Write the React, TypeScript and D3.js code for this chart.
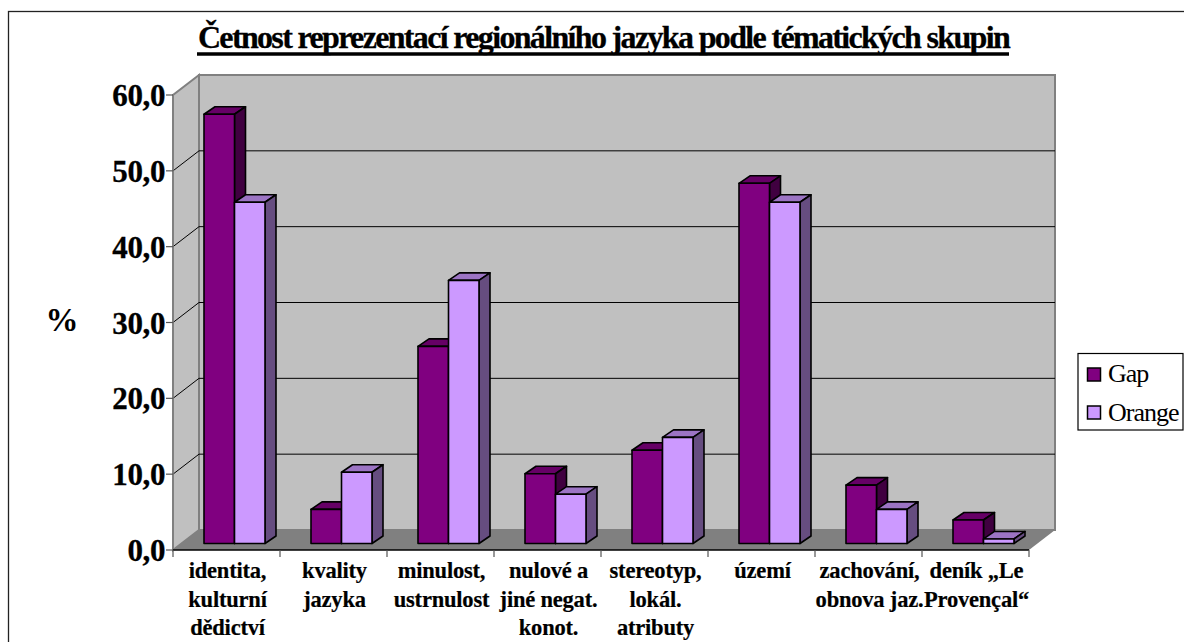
import React from "react";
import * as d3 from "d3";

const categories: string[][] = [
  ["identita,", "kulturní", "dědictví"],
  ["kvality", "jazyka"],
  ["minulost,", "ustrnulost"],
  ["nulové a", "jiné negat.", "konot."],
  ["stereotyp,", "lokál.", "atributy"],
  ["území"],
  ["zachování,", "obnova jaz."],
  ["deník „Le", "Provençal“"],
];
const gapValues = [56.6, 4.5, 26.0, 9.2, 12.3, 47.5, 7.7, 3.1];
const orangeValues = [45.0, 9.4, 34.7, 6.5, 14.0, 45.0, 4.5, 0.6];
const yTicks = [0, 10, 20, 30, 40, 50, 60];
const title = "Četnost reprezentací regionálního jazyka podle tématických skupin";

const W = 1184, H = 642;
const frontLeft = 173, frontRight = 1029, frontBase = 550, frontTop = 95;
const wallDx = 26, wallDy = -20;
const barDx = 11, barDy = -7.5, barShiftY = -6.5;
const font = "'Liberation Serif', 'Times New Roman', serif";

const y = d3.scaleLinear().domain([0, 60]).range([frontBase, frontTop]);
const x = d3.scaleBand<number>().domain(d3.range(categories.length)).range([frontLeft, frontRight]).paddingInner(0).paddingOuter(0);
const inner = d3.scaleBand<string>().domain(["Gap", "Orange"]).range([31, 92]);
const poly = (pts: number[][]) => d3.line()(pts as [number, number][]) + "Z";

function Bar({ x0, w, v, front, top, side }: { x0: number; w: number; v: number; front: string; top: string; side: string }) {
  const b = y(0) + barShiftY;
  const t = y(v) + barShiftY;
  const stroke = { stroke: "#000", strokeWidth: 1.6, strokeLinejoin: "round" as const };
  return (
    <g>
      <path d={poly([[x0, t], [x0 + barDx, t + barDy], [x0 + w + barDx, t + barDy], [x0 + w, t]])} fill={top} {...stroke} />
      <path d={poly([[x0 + w, t], [x0 + w + barDx, t + barDy], [x0 + w + barDx, b + barDy], [x0 + w, b]])} fill={side} {...stroke} />
      <rect x={x0} y={t} width={w} height={b - t} fill={front} {...stroke} />
    </g>
  );
}

export default function App() {
  const wallL = frontLeft + wallDx;
  const wallR = frontRight + wallDx;
  return (
    <svg width={W} height={H} style={{ position: "absolute", left: 0, top: 0, background: "#fff" }}>
      {/* chart frame runs off the right and bottom of the page */}
      <rect x={8.5} y={11.5} width={W + 10} height={H + 10} fill="#fff" stroke="#222" strokeWidth={1.3} />
      <text x={603.5} y={48} textAnchor="middle" fontFamily={font} fontWeight="bold" fontSize={32} letterSpacing={-1.66} fill="#000" stroke="#000" strokeWidth={0.3}>{title}</text>
      <line x1={197} x2={1009} y1={54} y2={54} stroke="#000" strokeWidth={3.6} />

      {/* walls and floor */}
      <rect x={wallL} y={y(60) + wallDy} width={wallR - wallL} height={y(0) - y(60)} fill="#C0C0C0" stroke="#808080" strokeWidth={2} />
      <path d={poly([[frontLeft, y(0)], [wallL, y(0) + wallDy], [wallL, y(60) + wallDy], [frontLeft, y(60)]])} fill="#C0C0C0" stroke="#808080" strokeWidth={2} />
      <path d={poly([[frontLeft, y(0)], [wallL, y(0) + wallDy], [wallR, y(0) + wallDy], [frontRight, y(0)]])} fill="#808080" />

      {/* gridlines run across the back wall and down the side wall */}
      {yTicks.slice(1, -1).map((t) => (
        <path key={t} d={`M${frontLeft},${y(t)}L${wallL},${y(t) + wallDy}L${wallR},${y(t) + wallDy}`} fill="none" stroke="#000" strokeWidth={1} />
      ))}

      {/* front axes */}
      <line x1={frontLeft} x2={frontLeft} y1={y(60)} y2={y(0)} stroke="#808080" strokeWidth={1.5} />
      <line x1={frontLeft} x2={frontRight} y1={y(0)} y2={y(0)} stroke="#000" strokeWidth={1.5} />
      {yTicks.map((t) => (
        <g key={t}>
          <line x1={frontLeft - 7} x2={frontLeft} y1={y(t)} y2={y(t)} stroke="#555" strokeWidth={1.2} />
          <text x={frontLeft - 8} y={y(t) + 11} textAnchor="end" fontFamily={font} fontWeight="bold" fontSize={31} letterSpacing={-0.4} fill="#000" stroke="#000" strokeWidth={0.3}>{t.toFixed(1).replace(".", ",")}</text>
        </g>
      ))}
      {d3.range(categories.length + 1).map((i) => {
        const px = frontLeft + i * x.step();
        return <line key={i} x1={px} x2={px} y1={y(0)} y2={y(0) + 7} stroke="#555" strokeWidth={1.2} />;
      })}

      {categories.map((_, i) => {
        const x0 = x(i)!;
        return (
          <g key={i}>
            <Bar x0={x0 + inner("Gap")!} w={inner.bandwidth()} v={gapValues[i]} front="#800080" top="#660066" side="#400040" />
            <Bar x0={x0 + inner("Orange")!} w={inner.bandwidth()} v={orangeValues[i]} front="#CC99FF" top="#9C74C4" side="#664D80" />
          </g>
        );
      })}

      {categories.map((lines, i) => (
        <text key={i} textAnchor="middle" fontFamily={font} fontWeight="bold" fontSize={22.5} letterSpacing={-0.2} fill="#000" stroke="#000" strokeWidth={0.2}>
          {lines.map((l, j) => (
            <tspan key={j} x={x(i)! + x.step() / 2 + 1} y={578 + j * 28.5}>{l}</tspan>
          ))}
        </text>
      ))}

      <text x={62} y={331} textAnchor="middle" fontFamily={font} fontWeight="bold" fontSize={33} fill="#000">%</text>

      {/* legend */}
      <rect x={1078} y={353.5} width={105} height={76.5} fill="#fff" stroke="#000" strokeWidth={1.2} />
      {[["Gap", "#800080"], ["Orange", "#CC99FF"]].map(([name, color], i) => (
        <g key={name}>
          <rect x={1087.5} y={368 + i * 38} width={13} height={13} fill={color} stroke="#000" strokeWidth={1.5} />
          <text x={1108} y={382 + i * 39} fontFamily={font} fontSize={26} letterSpacing={-1.0} fill="#000">{name}</text>
        </g>
      ))}
    </svg>
  );
}
